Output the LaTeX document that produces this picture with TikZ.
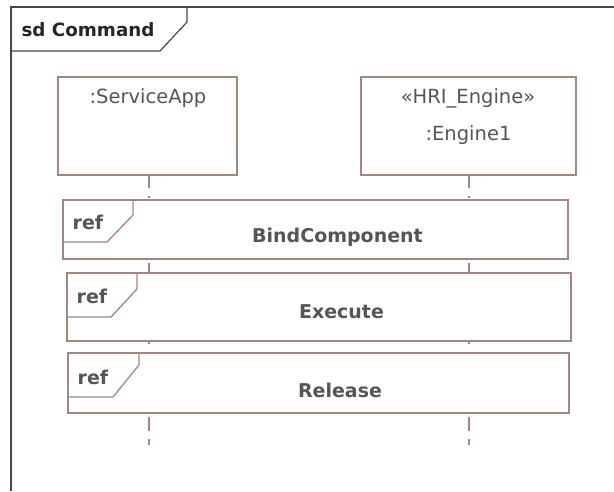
\documentclass[tikz,border=0pt]{standalone}
\usepackage{fontspec}
\setmainfont{DejaVu Sans}
\begin{document}
\begin{tikzpicture}[x=1pt,y=-1pt,
  framecol/.style={draw=black!72, line width=1.2pt},
  edge/.style={draw=umlline, line width=1.3pt},
  headbox/.style={edge, fill=white, rectangle, inner sep=0pt},
  reftab/.style={edge, line join=miter},
  lbl/.style={text=umltext, font=\fontsize{19.5}{22}\selectfont, inner sep=0pt},
  boldlbl/.style={text=umltext, font=\fontsize{19}{22}\selectfont\bfseries, inner sep=0pt},
  lifeline/.style={edge, line width=1.2pt,
    dash pattern=on 13pt off 8pt on 2pt off 65pt on 9pt off 70pt on 1.5pt off 8pt on 1.5pt off 64pt on 14pt off 8pt on 6pt off 100pt}]
\definecolor{umlline}{RGB}{160,134,134}
\definecolor{umltext}{RGB}{85,85,85}
\useasboundingbox (0,0) rectangle (614,491);
\fill[white] (0,0) rectangle (614,491);

% diagram frame and its name tab
\draw[framecol] (11,491) -- (11,7) -- (614,7);
\draw[framecol] (11,51) -- (160,51) -- (187,22) -- (187,7);
\node[text=black!85, font=\fontsize{18.3}{22}\selectfont\bfseries, inner sep=0pt] (title) at (88,30) {sd Command};

% lifeline heads
\path[headbox] (58,77) rectangle (237,175);
\coordinate (saTop) at (149,175);
\coordinate (saEnd) at (149,445);
\node[lbl] (saName) at (148,98) {:ServiceApp};

\path[headbox] (361,77) rectangle (576,175);
\coordinate (enTop) at (469,175);
\coordinate (enEnd) at (469,445);
\node[lbl] (enStereo) at (468,98) {«HRI\_Engine»};
\node[lbl] (enName) at (468.5,135) {:Engine1};

% lifelines
\draw[lifeline] (saTop) -- (saEnd);
\draw[lifeline] (enTop) -- (enEnd);

% interaction uses
\draw[edge] (63,200) rectangle (568,259);
\draw[reftab] (63,242) -- (107,242) -- (133,215) -- (133,200);
\node[boldlbl] (ref1) at (88,222) {ref};
\node[boldlbl] (bind) at (337.5,237) {BindComponent};

\draw[edge] (67,273) rectangle (571,341);
\draw[reftab] (67,317) -- (111,317) -- (137,289) -- (137,273);
\node[boldlbl] (ref2) at (92,296) {ref};
\node[boldlbl] (exec) at (341.5,312) {Execute};

\draw[edge] (68,353) rectangle (569,413);
\draw[reftab] (68,397) -- (113,397) -- (139,365) -- (139,353);
\node[boldlbl] (ref3) at (93,377) {ref};
\node[boldlbl] (rel) at (340,390) {Release};
\end{tikzpicture}
\end{document}
